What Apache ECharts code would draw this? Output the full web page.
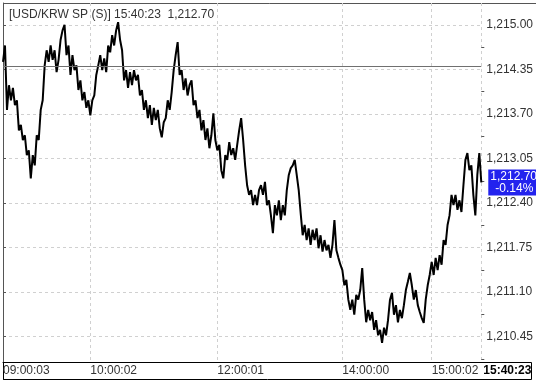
<!DOCTYPE html>
<html><head><meta charset="utf-8">
<script src="https://cdn.jsdelivr.net/npm/echarts@6/dist/echarts.min.js"></script>
<style>html,body{margin:0;padding:0;background:#fff}#c{width:536px;height:382px}</style>
</head><body><div id="c"></div>
<script>
// USD/KRW tick prices, read left to right from the picture
const prices = [
1214.46,1214.70,1213.76,1214.12,1213.90,1214.08,1213.83,1213.90,1213.46,1213.54,
1213.32,1213.39,1213.10,1213.17,1212.76,1213.10,1212.95,1213.39,1213.32,1213.76,
1213.90,1214.41,1214.63,1214.46,1214.70,1214.49,1214.63,1214.31,1214.49,1214.78,
1214.92,1215.00,1214.56,1214.70,1214.27,1214.56,1214.34,1214.41,1214.05,1214.19,
1213.90,1214.02,1213.79,1213.90,1213.68,1213.90,1213.97,1214.27,1214.41,1214.56,
1214.34,1214.51,1214.31,1214.70,1214.60,1214.85,1214.70,1214.92,1215.04,1214.78,
1214.63,1214.19,1214.34,1214.08,1214.31,1214.12,1214.34,1214.19,1214.27,1213.97,
1214.05,1213.76,1213.90,1213.64,1213.83,1213.54,1213.79,1213.61,1213.76,1213.49,
1213.36,1213.58,1213.64,1213.90,1213.76,1214.02,1214.34,1214.56,1214.75,1214.27,
1214.34,1214.05,1214.22,1213.97,1214.12,1214.19,1213.83,1213.90,1213.64,1213.76,
1213.46,1213.61,1213.32,1213.49,1213.20,1213.39,1213.71,1213.32,1213.17,1213.25,
1212.88,1212.76,1213.10,1213.03,1213.29,1213.10,1213.20,1213.03,1213.25,1213.46,
1213.64,1213.32,1212.95,1212.66,1212.52,1212.59,1212.37,1212.52,1212.37,1212.59,
1212.66,1212.52,1212.71,1212.37,1212.44,1212.22,1211.96,1212.37,1212.22,1212.44,
1212.15,1212.37,1212.22,1212.59,1212.81,1212.91,1212.95,1213.03,1212.81,1212.59,
1212.25,1211.93,1212.08,1211.86,1212.03,1211.79,1212.01,1211.86,1212.03,1211.74,
1211.93,1211.69,1211.86,1211.71,1211.79,1211.60,1211.79,1212.15,1211.71,1211.60,
1211.50,1211.42,1211.20,1211.28,1210.99,1210.84,1210.99,1210.77,1211.06,1210.99,
1211.13,1211.45,1210.99,1210.66,1210.84,1210.69,1210.81,1210.55,1210.69,1210.47,
1210.55,1210.36,1210.58,1210.47,1210.69,1210.99,1211.09,1210.77,1210.91,1210.66,
1210.84,1210.72,1210.91,1211.13,1211.25,1211.38,1211.20,1210.99,1211.13,1210.91,
1210.81,1210.72,1210.65,1210.99,1211.20,1211.35,1211.54,1211.35,1211.60,1211.42,
1211.64,1211.50,1211.86,1211.79,1212.08,1212.22,1212.52,1212.37,1212.52,1212.30,
1212.44,1212.27,1212.66,1213.03,1213.13,1212.88,1212.95,1212.52,1212.22,1212.81,
1213.13,1212.70
];
const prevClose = 1214.40;
const lastPrice = 1212.70;
const changePct = '-0.14%';
const titleText = '[USD/KRW SP (S)] 15:40:23  1,212.70';
const xTickIdx = [0, 44, 108, 171, 216, 241];
const xTickLabels = ['09:00:03', '10:00:02', '12:00:01', '14:00:00', '15:00:02', '15:40:23'];
const yTicks = [1210.45, 1211.10, 1211.75, 1212.40, 1213.05, 1213.70, 1214.35, 1215.00];
const yMinorTicks = [1210.125, 1210.775, 1211.425, 1212.075, 1212.725, 1213.375, 1214.025, 1214.675];
const yMin = 1210.08, yMax = 1215.32;

function fmt(v) {
  const s = v.toFixed(2);
  const [i, d] = s.split('.');
  return i.replace(/\B(?=(\d{3})+(?!\d))/g, ',') + '.' + d;
}
const FONT = '"Liberation Sans", Arial, sans-serif';
const chart = echarts.init(document.getElementById('c'), null, {renderer: 'canvas'});
const data = prices.map((v, i) => [i, v]);
chart.setOption({
  animation: false,
  backgroundColor: '#fff',
  textStyle: {fontFamily: FONT},
  title: {
    text: titleText, left: 4, top: 4,
    textStyle: {fontSize: 12, fontWeight: 'normal', color: '#333', fontFamily: FONT}
  },
  grid: {left: 3, right: 50, top: 3, bottom: 20},
  xAxis: {
    type: 'value', min: 0, max: prices.length - 1,
    axisLine: {show: true, onZero: false, lineStyle: {color: '#000', width: 1}},
    axisTick: {show: false, customValues: xTickIdx},
    axisLabel: {
      customValues: xTickIdx, align: 'left', margin: 3,
      fontSize: 12, color: '#333', fontFamily: FONT,
      formatter: function (v) {
        const k = xTickIdx.indexOf(v);
        const t = k >= 0 ? xTickLabels[k] : '';
        return k === xTickIdx.length - 1 ? '{b|' + t + '}' : t;
      },
      rich: {b: {fontWeight: 'bold', color: '#000', fontSize: 12, fontFamily: FONT, padding: [0, 0, 0, 2]}}
    },
    splitLine: {show: true, lineStyle: {color: '#d0d0d0', type: [3, 3], width: 1}}
  },
  yAxis: [{
    type: 'value', position: 'right', min: yMin, max: yMax, scale: true,
    axisLine: {show: true, lineStyle: {color: '#555', width: 1}},
    axisTick: {show: true, inside: false, length: 3, customValues: yTicks, lineStyle: {color: '#555'}},
    axisLabel: {customValues: yTicks, margin: 5, fontSize: 12, color: '#333', fontFamily: FONT,
      formatter: v => fmt(v)},
    splitLine: {show: true, lineStyle: {color: '#d0d0d0', type: [3, 3], width: 1}}
  }, {
    type: 'value', position: 'right', min: yMin, max: yMax, scale: true,
    axisLine: {show: false},
    axisTick: {show: true, length: 3, customValues: yMinorTicks, lineStyle: {color: '#555'}},
    axisLabel: {show: false},
    splitLine: {show: false}
  }],
  series: [{
    type: 'line', data: data, showSymbol: false, symbol: 'none',
    lineStyle: {color: '#000', width: 2},
    markLine: {
      silent: true, symbol: 'none', animation: false,
      data: [
        {yAxis: prevClose, lineStyle: {color: '#707070', type: 'solid', width: 1}, label: {show: false}},
        {yAxis: lastPrice, lineStyle: {color: 'rgba(0,0,0,0)', width: 1}, label: {
          show: true, position: 'end', distance: 7, opacity: 1,
          formatter: '{a|' + fmt(lastPrice) + '}\n{c|' + changePct + '}',
          backgroundColor: '#2323ee', padding: [1, 2, 1, 2],
          rich: {
            a: {color: '#fff', fontSize: 12, lineHeight: 12, width: 48, align: 'left', fontFamily: FONT},
            c: {color: '#fff', fontSize: 12, lineHeight: 12, width: 48, align: 'center', fontFamily: FONT}
          }
        }}
      ]
    }
  }],
  graphic: [
    {type: 'line', silent: true, shape: {x1: 3.5, y1: 3.5, x2: 536, y2: 3.5}, style: {stroke: '#555', lineWidth: 1}},
    {type: 'line', silent: true, shape: {x1: 3.5, y1: 3.5, x2: 3.5, y2: 380}, style: {stroke: '#555', lineWidth: 1}},
    {type: 'rect', silent: true, shape: {x: 3.5, y: 362.5, width: 528, height: 17}, style: {fill: null, stroke: '#000', lineWidth: 1}}
  ]
});
</script></body></html>
